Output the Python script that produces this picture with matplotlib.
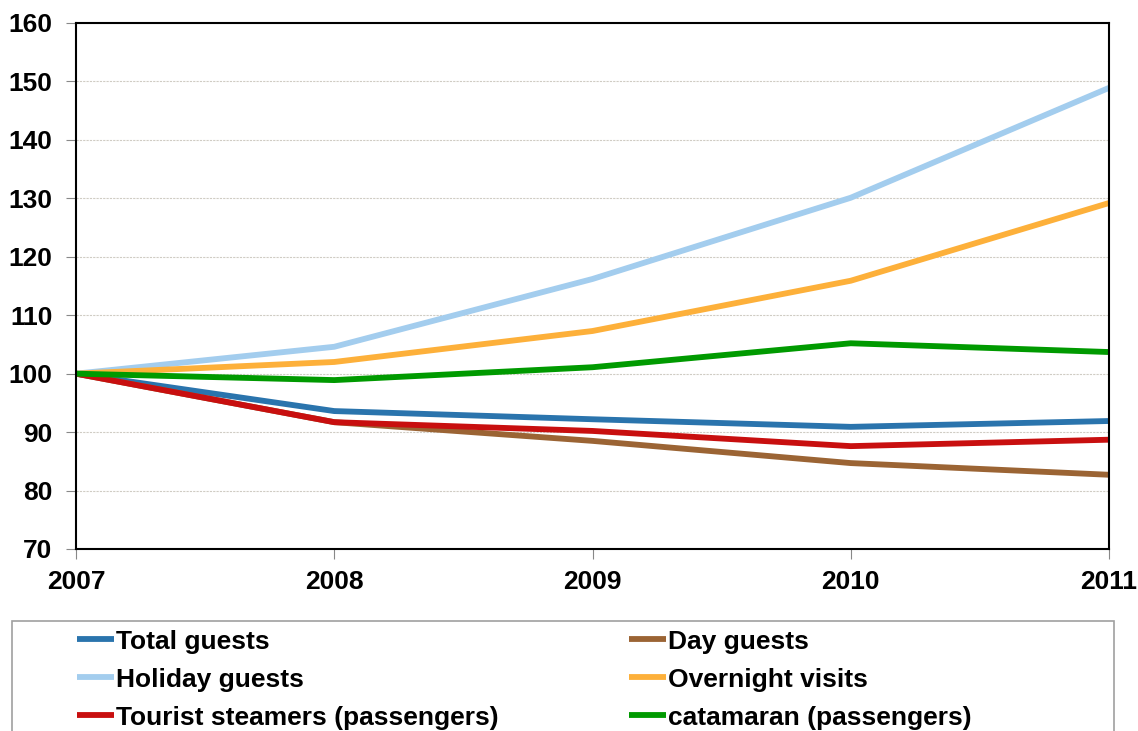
import matplotlib.pyplot as plt
from matplotlib.patches import Rectangle

plt.rcParams['font.family'] = ['Liberation Sans', 'DejaVu Sans']
plt.rcParams['font.weight'] = 'bold'

years = [2007, 2008, 2009, 2010, 2011]
total_guests = [100, 93.6, 92.2, 90.9, 91.9]
day_guests = [100, 91.7, 88.5, 84.7, 82.7]
holiday_guests = [100, 104.6, 116.2, 130.1, 148.9]
overnight_visits = [100, 102.0, 107.3, 115.9, 129.2]
tourist_steamers = [100, 91.7, 90.2, 87.6, 88.7]
catamaran = [100, 98.9, 101.1, 105.2, 103.7]

fig = plt.figure(figsize=(11.38, 7.31), dpi=100)
ax = fig.add_axes([76/1138, 1-549/731, (1109-76)/1138, (549-23)/731])

lw = 4.2
l_total, = ax.plot(years, total_guests, color='#2a74ad', lw=lw, label='Total guests')
l_day, = ax.plot(years, day_guests, color='#9b6434', lw=lw, label='Day guests')
l_hol, = ax.plot(years, holiday_guests, color='#a3cdee', lw=lw, label='Holiday guests')
l_over, = ax.plot(years, overnight_visits, color='#fdb03a', lw=lw, label='Overnight visits')
l_tour, = ax.plot(years, tourist_steamers, color='#c80f0f', lw=lw, label='Tourist steamers (passengers)')
l_cat, = ax.plot(years, catamaran, color='#009a00', lw=lw, label='catamaran (passengers)')
for l in [l_total, l_day, l_hol, l_over, l_tour, l_cat]:
    l.set_solid_capstyle('butt')
    l.set_clip_on(False)

ax.set_xlim(2007, 2011)
ax.set_ylim(70, 160)
ax.set_xticks(years)
ax.set_yticks(range(70, 161, 10))
ax.grid(axis='y', color='#d0ccc4', lw=0.8, ls=(0, (2, 1)))
ax.set_axisbelow(True)
ax.tick_params(labelsize=19, length=7, width=0.8, color='#888888', direction='out')
ax.tick_params(axis='x', pad=8)
ax.tick_params(axis='y', pad=10)
for s in ax.spines.values():
    s.set_linewidth(1.5)
    s.set_color('black')

# legend frame (cut off at the bottom like the original)
fig.patches.append(Rectangle((12/1138, -0.05), (1114-12)/1138, (731-621)/731 + 0.05,
                             transform=fig.transFigure, fill=False, ec='#a0a0a0', lw=1.2))
handles = [l_total, l_hol, l_tour, l_day, l_over, l_cat]
fig.legend(handles=handles, labels=[h.get_label() for h in handles], ncols=2,
           loc='upper left', bbox_to_anchor=(66/1138, 1-619/731), frameon=False,
           prop={'size': 19, 'weight': 'bold'}, handlelength=1.4, handletextpad=0.08,
           columnspacing=4.95, labelspacing=0.53, borderaxespad=0)

fig.savefig('out.png', dpi=100)
plt.close()
